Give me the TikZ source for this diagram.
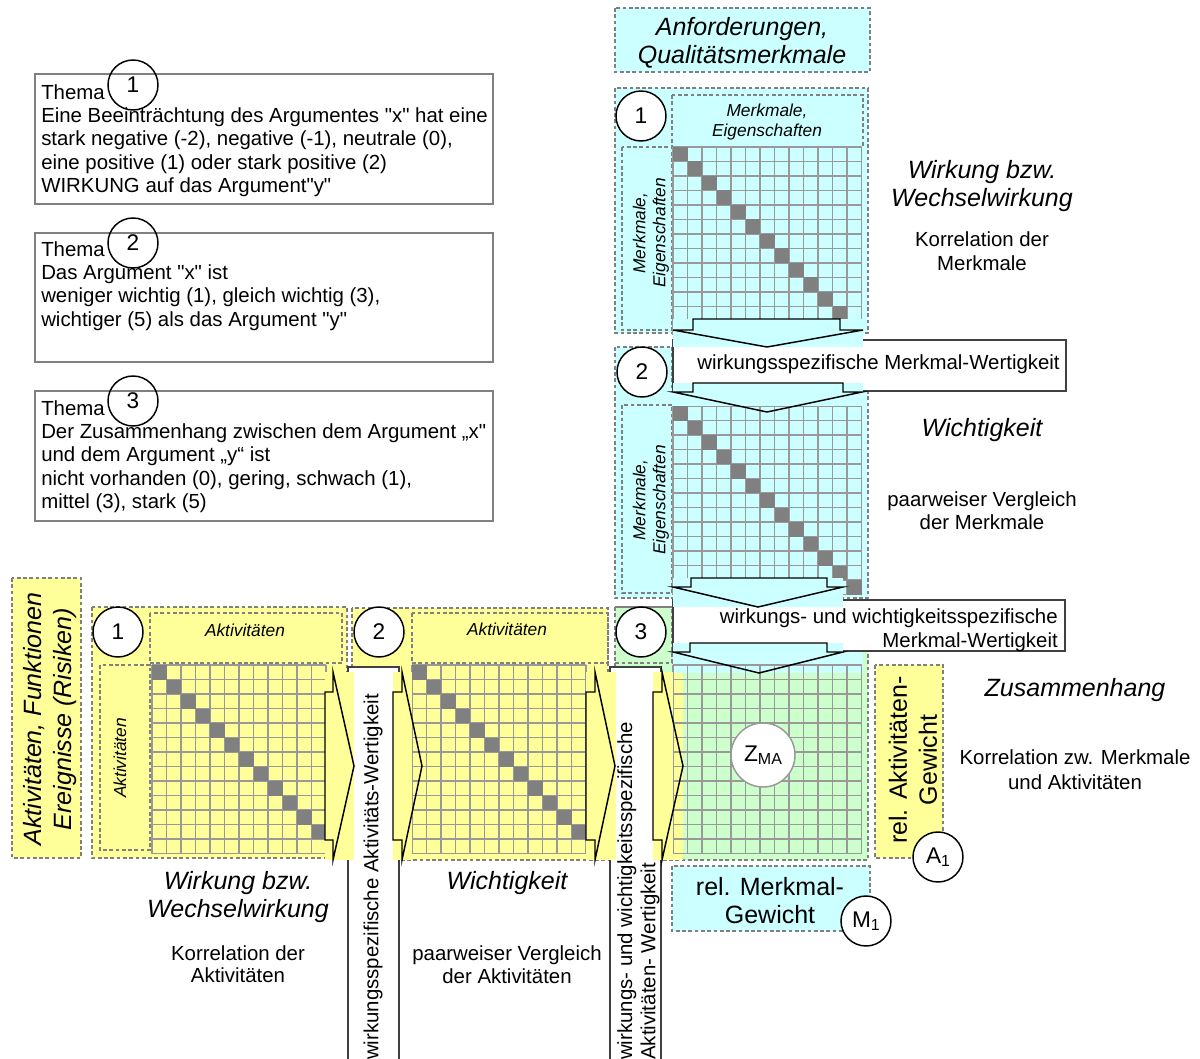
\documentclass[tikz,border=0pt]{standalone}
\usepackage{fontspec}
\setmainfont{Liberation Sans}[Ligatures=TeXOff]
\usetikzlibrary{positioning}

\definecolor{hellcyan}{HTML}{CCFFFF}
\definecolor{hellgelb}{HTML}{FFFF99}
\definecolor{hellgruen}{HTML}{CCFFCC}
\definecolor{rastergrau}{HTML}{999999}
\definecolor{feldgrau}{HTML}{808080}

% Raster: links oben (#1,#2), Spalten #3, Zeilen #4, Diagonalfelder #5
\newcommand{\raster}[5]{%
  \foreach \i in {0,...,#3} \draw[gitter] ({#1+\i*14.5},#2) -- ++(0,{#4*14.5});
  \foreach \j in {0,...,#4} \draw[gitter] (#1,{#2+\j*14.5}) -- ++({#3*14.5},0);
  \ifnum#5>0
    \foreach \k in {1,...,#5} \fill[feldgrau] ({#1+(\k-1)*14.5},{#2+(\k-1)*14.5}) rectangle ++(14.5,14.5);
  \fi}
\newcommand{\tief}[1]{\raisebox{-0.3ex}{\fontsize{12}{12}\selectfont #1}}

\begin{document}
\begin{tikzpicture}[x=0.75pt,y=-0.75pt]
	\tikzstyle{rahmen}=[draw=feldgrau, line width=2.2pt, dash pattern=on 2.8pt off 1.9pt]
	\tikzstyle{gitter}=[draw=rastergrau, line width=1.3pt]
	\tikzstyle{pfeil}=[draw=black, line width=1.1pt]
	\tikzstyle{etikett}=[draw=black!75, line width=1.4pt, fill=white]
	\tikzstyle{thema}=[draw=feldgrau, line width=1.4pt]
	\tikzstyle{nummer}=[circle, draw=black, line width=1.1pt, fill=white, minimum size=37.5pt, inner sep=0pt, font=\fontsize{17}{17}\selectfont]
	\tikzstyle{schrift}=[inner sep=0pt, align=center, font=\fontsize{15.3}{17.5}\selectfont]
	\tikzstyle{titel}=[inner sep=0pt, align=center, font=\fontsize{18.75}{21}\selectfont\itshape]
	\tikzstyle{klein}=[inner sep=0pt, align=center, font=\fontsize{13}{15}\selectfont\itshape]
	\tikzstyle{gross}=[inner sep=0pt, align=center, font=\fontsize{18.75}{21.5}\selectfont]

	\path[use as bounding box, fill=white] (0,0) rectangle (1200,1059);

	% Themen
	\draw[thema] (35,74) rectangle (493,204);
	\draw[thema] (35,233) rectangle (493,362);
	\draw[thema] (35,391) rectangle (493,521);
	\node[schrift, align=left, anchor=north west] (t1) at (41,84) {Thema\\Eine Beeinträchtung des Argumentes "x" hat eine\\stark negative (-2), negative (-1), neutrale (0),\\eine positive (1) oder stark positive (2)\\WIRKUNG auf das Argument"y"};
	\node[schrift, align=left, anchor=north west] (t2) at (41,241) {Thema\\Das Argument "x" ist\\weniger wichtig (1), gleich wichtig (3),\\wichtiger (5) als das Argument "y"};
	\node[schrift, align=left, anchor=north west] (t3) at (41,400) {Thema\\Der Zusammenhang zwischen dem Argument „x"\\und dem Argument „y“ ist\\nicht vorhanden (0), gering, schwach (1),\\mittel (3), stark (5)};
	\node[nummer, fill=none] (n1) at (133,85) {1};
	\node[nummer, fill=none] (n2) at (133,243) {2};
	\node[nummer, fill=none] (n3) at (133,401) {3};

	% Merkmale (oben)
	\draw[rahmen, fill=hellcyan] (615,8) rectangle (870,72);
	\draw[rahmen, fill=hellcyan] (615,88) rectangle (868,333);
	\draw[rahmen] (672,95) rectangle (863,147);
	\draw[rahmen] (622,147) rectangle (672,330);
	\raster{673}{147}{13}{13}{13}
	\draw[rahmen, fill=hellcyan] (615,347) rectangle (868,598);
	\draw[rahmen] (672,347) -- (672,392);
	\draw[rahmen] (622,405) rectangle (672,593);
	\raster{673}{406}{13}{13}{13}

	% Zusammenhang
	\draw[rahmen, fill=hellgruen] (615,607) rectangle (868,860);
	\draw[rahmen] (615,607) rectangle (672,663);
	\fill[hellgelb] (653,672) rectangle (683,860);
	\fill[hellcyan] (673,651) rectangle (863,673);
	\raster{673}{665}{13}{13}{0}

	% Aktivitaeten (unten)
	\draw[rahmen, fill=hellgelb] (12,578) rectangle (81,858);
	\draw[rahmen, fill=hellgelb] (92,607) rectangle (347,858);
	\draw[rahmen] (150,613) rectangle (342,663);
	\draw[rahmen] (100,665) rectangle (150,850);
	\raster{152}{665}{12}{13}{12}
	\draw[rahmen, fill=hellgelb] (352,608) rectangle (608,860);
	\draw[rahmen] (412,613) rectangle (608,663);
	\raster{412}{665}{12}{13}{12}

	% Gewichte
	\draw[rahmen, fill=hellcyan] (672,866) rectangle (870,931);
	\draw[rahmen, fill=hellgelb] (875,665) rectangle (943,858);

	% Wertigkeiten
	\draw[etikett] (673,340) rectangle (1066,391);
	\draw[etikett] (673,600) rectangle (1065,651);
	\draw[etikett] (348,667) rectangle (399,1075);
	\draw[etikett] (610,667) rectangle (661,1075);

	% Pfeile
	\fill[hellcyan] (673,319) rectangle (863,347);
	\fill[hellcyan] (673,383) rectangle (863,406);
	\fill[hellcyan] (673,578) rectangle (843,607);
	\fill[hellcyan] (673,643) rectangle (843,652);
	\fill[hellgelb] (325,672) rectangle (354,860);
	\fill[hellgelb] (393,672) rectangle (412,860);
	\fill[hellgelb] (586,672) rectangle (616,860);
	\fill[hellgelb] (653,672) rectangle (673,860);
	\draw[pfeil] (693,319) -- (840,319) -- (840,330) -- (863,330) -- (767,347) -- (673,330) -- (693,330) -- cycle;
	\draw[pfeil] (693,383) -- (843,383) -- (843,392) -- (862,392) -- (767,412) -- (673,392) -- (693,392) -- cycle;
	\draw[pfeil] (691,578) -- (827,578) -- (827,587) -- (843,587) -- (758,607) -- (673,587) -- (691,587) -- cycle;
	\draw[pfeil] (690,643) -- (827,643) -- (827,652) -- (843,652) -- (759,673) -- (673,652) -- (690,652) -- cycle;
	\draw[pfeil] (325,692) -- (325,840) -- (333,840) -- (333,860) -- (354,766) -- (333,672) -- (333,692) -- cycle;
	\draw[pfeil] (393,692) -- (393,840) -- (402,840) -- (402,860) -- (422,766) -- (402,672) -- (402,692) -- cycle;
	\draw[pfeil] (586,692) -- (586,840) -- (595,840) -- (595,860) -- (615,766) -- (595,672) -- (595,692) -- cycle;
	\draw[pfeil] (653,692) -- (653,840) -- (662,840) -- (662,860) -- (683,766) -- (662,672) -- (662,692) -- cycle;

	% Nummern
	\node[nummer] (m1) at (641,116) {1};
	\node[nummer] (m2) at (642,372) {2};
	\node[nummer] (m3) at (641,632) {3};
	\node[nummer] (a1) at (118,632) {1};
	\node[nummer] (a2) at (379,632) {2};
	\node[circle, draw=rastergrau, line width=1.1pt, fill=white, minimum size=48pt, inner sep=0pt, font=\fontsize{17}{17}\selectfont] (zma) at (763,755) {Z\tief{MA}};
	\node[nummer] (gm) at (866,921) {M\tief{1}};
	\node[nummer] (ga) at (938,857) {A\tief{1}};

	% Beschriftungen
	\node[titel] (anf) at (742,43) {Anforderungen,\\Qualitätsmerkmale};
	\node[klein] (mk1) at (767,122) {Merkmale,\\Eigenschaften};
	\node[klein, rotate=90] (ms1) at (651,233) {Merkmale,\\Eigenschaften};
	\node[klein, rotate=90] (ms2) at (651,500) {Merkmale,\\Eigenschaften};
	\node[schrift, anchor=base west] (w1) at (697,369) {wirkungsspezifische Merkmal-Wertigkeit};
	\node[schrift, align=right, anchor=north east, font=\fontsize{15.3}{18}\selectfont] (w2) at (1058,608.5) {wirkungs- und wichtigkeitsspezifische\\Merkmal-Wertigkeit};
	\node[titel] (ww1) at (982,186) {Wirkung bzw.\\Wechselwirkung};
	\node[schrift, font=\fontsize{15.3}{18}\selectfont] (kd1) at (982,251) {Korrelation der\\Merkmale};
	\node[titel] (wi1) at (982,430) {Wichtigkeit};
	\node[schrift] (pv1) at (982,511) {paarweiser Vergleich\\der Merkmale};
	\node[titel] (zus) at (1075,690) {Zusammenhang};
	\node[schrift, font=\fontsize{15.3}{18.5}\selectfont] (kzw) at (1075,770) {Korrelation zw. Merkmale\\und Aktivitäten};

	\node[titel, rotate=90, font=\fontsize{18.75}{22.5}\selectfont\itshape] (akt) at (50,719) {Aktivitäten, Funktionen\\Ereignisse (Risiken)};
	\node[klein] (ak1) at (245,630) {Aktivitäten};
	\node[klein] (ak2) at (507,629) {Aktivitäten};
	\node[klein, rotate=90] (aks) at (120,758) {Aktivitäten};
	\node[schrift, rotate=90, anchor=west] (v1) at (373,1060) {wirkungsspezifische Aktivitäts-Wertigkeit};
	\node[schrift, rotate=90, align=left, anchor=west] (v2) at (638.5,1060) {wirkungs- und wichtigkeitsspezifische\\Aktivitäten- Wertigkeit};
	\node[titel] (ww2) at (238,897) {Wirkung bzw.\\Wechselwirkung};
	\node[schrift, font=\fontsize{15.3}{16.5}\selectfont] (kd2) at (238,964) {Korrelation der\\Aktivitäten};
	\node[titel] (wi2) at (507,883) {Wichtigkeit};
	\node[schrift] (pv2) at (507,965) {paarweiser Vergleich\\der Aktivitäten};

	\node[gross, font=\fontsize{18.75}{21}\selectfont] (rm) at (770,901) {rel. Merkmal-\\Gewicht};
	\node[gross, rotate=90, font=\fontsize{18.75}{22.5}\selectfont] (ra) at (913,760) {rel. Aktivitäten-\\Gewicht};
\end{tikzpicture}
\end{document}
